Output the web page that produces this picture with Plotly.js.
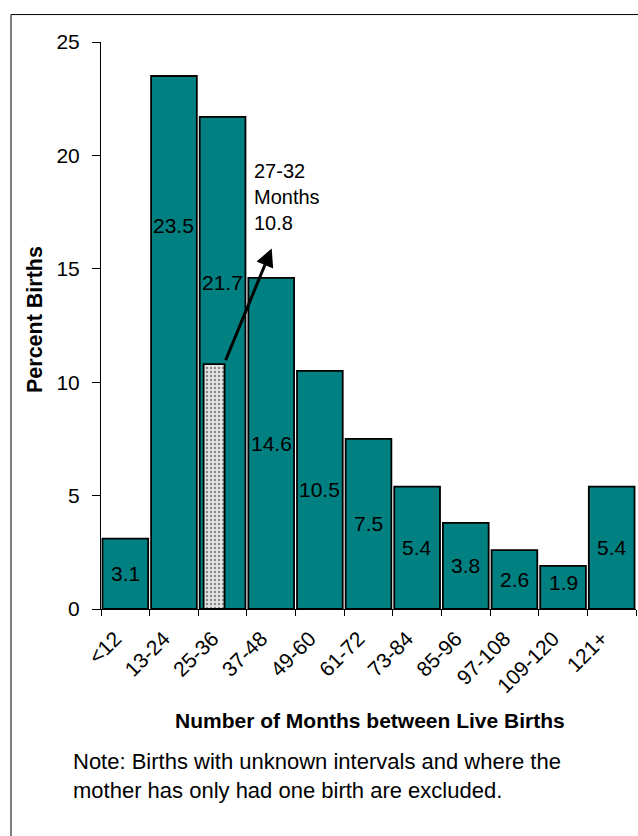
<!DOCTYPE html>
<html>
<head>
<meta charset="utf-8">
<script src="https://cdn.plot.ly/plotly-3.0.1.min.js"></script>
<style>html,body{margin:0;padding:0;background:#fff;}#chart{width:638px;height:836px;}</style>
</head>
<body>
<div id="chart"></div>
<script>
// ---- data ----
const categories = ['<12','13-24','25-36','37-48','49-60','61-72','73-84','85-96','97-108','109-120','121+'];
const percentBirths = [3.1, 23.5, 21.7, 14.6, 10.5, 7.5, 5.4, 3.8, 2.6, 1.9, 5.4];
const subCategory = '25-36';
const subLabel = '27-32';
const subValue = 10.8;

// ---- layout helpers (label placement, not data) ----
const labelYOverride = {'13-24': 16.9, '25-36': 14.4, '109-120': 1.15};
const FONT = 'Liberation Sans, Arial, sans-serif';

const mainBars = {
  type: 'bar', x: categories, y: percentBirths,
  marker: {color: '#008080', line: {color: '#000', width: 1.8}},
  hoverinfo: 'skip', showlegend: false
};
const subBar = {
  type: 'bar', x: [subCategory], y: [subValue],
  offset: -0.39, width: 0.43,
  marker: {color: '#d8d8d8', line: {color: '#000', width: 1.8},
           pattern: {shape: '.', fgcolor: '#8a8a8a', bgcolor: '#e6e6e6', size: 4, solidity: 0.3}},
  hoverinfo: 'skip', showlegend: false
};

const annotations = categories.map((c, i) => ({
  x: c, y: (labelYOverride[c] !== undefined ? labelYOverride[c] : percentBirths[i] / 2),
  xref: 'x', yref: 'y', text: percentBirths[i].toFixed(1), showarrow: false,
  font: {family: FONT, size: 21, color: '#000'}, xanchor: 'center', yanchor: 'middle'
}));

// arrow from top-right of sub bar
annotations.push({
  x: 3.01, y: 15.9, ax: 2.05, ay: subValue + 0.1, xref: 'x', yref: 'y', axref: 'x', ayref: 'y',
  text: '', showarrow: true, arrowhead: 2, arrowsize: 1.2, arrowwidth: 3, arrowcolor: '#000'
});
annotations.push({
  x: 2.6, y: 18.16, xref: 'x', yref: 'y', xanchor: 'left', yanchor: 'middle', align: 'left',
  text: subLabel + '<br>Months<br>' + subValue.toFixed(1), showarrow: false,
  font: {family: FONT, size: 20, color: '#000'}
});
annotations.push({
  x: 370, y: 721, xref: 'paper', yref: 'paper', text: '<b>Number of Months between Live Births</b>',
  showarrow: false, font: {family: FONT, size: 21, color: '#000'}, xanchor: 'center', yanchor: 'middle'
});
annotations.push({
  x: 35, y: 320, xref: 'paper', yref: 'paper', text: '<b>Percent Births</b>', textangle: -90,
  showarrow: false, font: {family: FONT, size: 21.5, color: '#000'}, xanchor: 'center', yanchor: 'middle'
});
annotations.push({
  x: 71, y: 777, xref: 'paper', yref: 'paper', xanchor: 'left', yanchor: 'middle', align: 'left',
  text: 'Note: Births with unknown intervals and where the<br>mother has only had one birth are excluded.',
  showarrow: false, font: {family: FONT, size: 22, color: '#000'}
});

// convert pixel-based paper annotations to paper fractions
const W = 638, H = 836, mL = 101, mR = 2, mT = 41.5, mB = 226.5;
const pw = W - mL - mR, ph = H - mT - mB;
annotations.forEach(a => {
  if (a.xref === 'paper') {
    a.x = (a.x - mL) / pw;
    a.y = (H - mB - a.y) / ph;
  }
});

const layout = {
  width: W, height: H,
  margin: {l: mL, r: mR, t: mT, b: mB, pad: 0},
  paper_bgcolor: '#fff', plot_bgcolor: '#fff',
  barmode: 'overlay', bargap: 0.06,
  font: {family: FONT, color: '#000'},
  xaxis: {
    type: 'category', tickangle: -45, tickson: 'boundaries', ticks: 'outside', ticklen: 6,
    tickcolor: '#000', showline: true, linecolor: '#000', linewidth: 1, showgrid: false,
    zeroline: false, tickfont: {family: FONT, size: 21, color: '#000'}, fixedrange: true,
    ticklabelshift: -10, ticklabelstandoff: 8,
    title: {text: ''}
  },
  yaxis: {
    range: [0, 25], dtick: 5, ticks: 'outside', ticklen: 8, tickcolor: '#000',
    showline: true, linecolor: '#000', linewidth: 1, showgrid: false, zeroline: false,
    tickfont: {family: FONT, size: 21, color: '#000'}, fixedrange: true, title: {text: ''},
    ticklabelstandoff: 8
  },
  shapes: [{
    type: 'rect', xref: 'paper', yref: 'paper',
    x0: (11 - mL) / pw, x1: (700 - mL) / pw, y0: (H - mB - 900) / ph, y1: (H - mB - 14) / ph,
    line: {color: '#000', width: 1}, fillcolor: 'rgba(0,0,0,0)', layer: 'below'
  }],
  annotations: annotations
};

Plotly.newPlot('chart', [mainBars, subBar], layout, {displayModeBar: false, staticPlot: true});
</script>
</body>
</html>
